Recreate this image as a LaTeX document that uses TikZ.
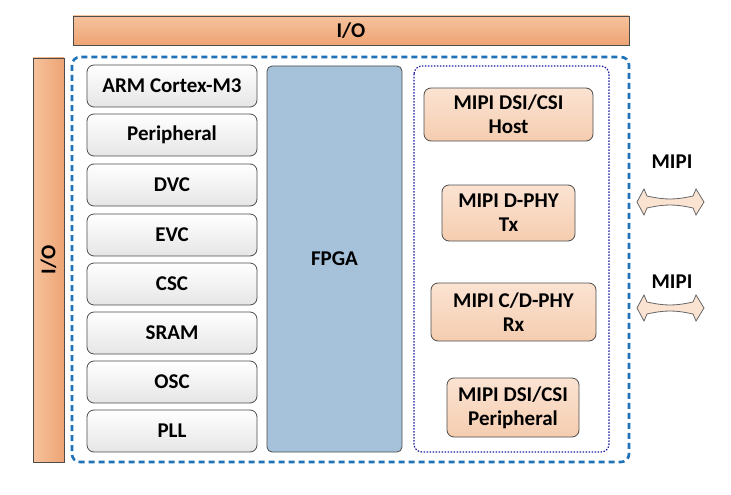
\documentclass[tikz,border=0pt]{standalone}
\usepackage{fontspec}
\setmainfont{Carlito}
\begin{document}
\begin{tikzpicture}[x=1pt,y=-1pt,
  io/.style={draw=black!70,line width=0.8pt,top color=ioa,bottom color=iob,font=\bfseries\fontsize{21}{23}\selectfont},
  blk/.style={draw=black!70,line width=0.8pt,rounded corners=7pt,top color=white,bottom color=black!10,font=\bfseries\fontsize{21}{23}\selectfont},
  mipi/.style={draw=black!70,line width=0.8pt,rounded corners=7pt,top color=mpa,bottom color=mpb,align=center,font=\bfseries\fontsize{21}{24}\selectfont},
  arr/.style={draw=black!60,fill=mpa,line width=0.8pt},
  lbl/.style={font=\bfseries\fontsize{21}{23}\selectfont}]
\useasboundingbox (0,0) rectangle (731,495);
\definecolor{dblue}{HTML}{1F72B8}
\definecolor{nblue}{HTML}{1A1AA0}
\definecolor{fpga}{HTML}{A6C1DA}
\definecolor{ioa}{HTML}{F6C29C}
\definecolor{iob}{HTML}{EDA474}
\definecolor{mpa}{HTML}{FBE3D2}
\definecolor{mpb}{HTML}{F5CDB0}
\node[io,minimum width=556pt,minimum height=29pt,inner sep=0pt] (iot) at (351,30.5) {I/O};
\node[io,minimum width=31pt,minimum height=404pt,inner sep=0pt,left color=ioa,right color=iob] (iol) at (48.5,260) {};
\node[rotate=90,lbl] (iolt) at (48.5,260) {I/O};
\draw[dblue,line width=2.6pt,dash pattern=on 6pt off 4pt,rounded corners=8pt] (72,57) rectangle (629,462);
\foreach \n/\t/\a/\b in {arm/ARM Cortex-M3/65/107, per/Peripheral/114/156, dvc/DVC/164/206, evc/EVC/214/256, csc/CSC/263/305, sram/SRAM/312/354, osc/OSC/361/403, pll/PLL/410/452}
  \node[blk,minimum width=170pt,minimum height={\b-\a},inner sep=0pt] (\n) at (172,{(\a+\b)/2}) {\t};
\node[draw=black!70,line width=0.8pt,fill=fpga,rounded corners=5pt,minimum width=135pt,minimum height=386pt,inner sep=0pt,font=\bfseries\fontsize{21}{23}\selectfont] (fpga) at (334.5,259) {FPGA};
\draw[nblue,line width=1.2pt,dash pattern=on 1.5pt off 1.5pt,rounded corners=8pt] (414,66) rectangle (609,452);
\node[mipi,minimum width=169pt,minimum height=53pt,inner sep=0pt] (host) at (508.5,114.5) {MIPI DSI/CSI\\Host};
\node[mipi,minimum width=133pt,minimum height=56pt,inner sep=0pt] (tx) at (508.5,213) {MIPI D-PHY\\Tx};
\node[mipi,minimum width=165pt,minimum height=58pt,inner sep=0pt] (rx) at (513.5,312) {MIPI C/D-PHY\\Rx};
\node[mipi,minimum width=132pt,minimum height=59pt,inner sep=0pt] (pp) at (513,407.5) {MIPI DSI/CSI\\Peripheral};
\foreach \y/\n in {202/a1,308/a2}{
  \draw[arr] (637,\y) -- (644,\y-13) .. controls (646,\y-10) .. (647,\y-6)
    .. controls (665,\y-2) and (675,\y-2) .. (693,\y-6)
    .. controls (694,\y-10) .. (696,\y-13) -- (704,\y) -- (696,\y+13)
    .. controls (694,\y+10) .. (693,\y+6)
    .. controls (675,\y+2) and (665,\y+2) .. (647,\y+6)
    .. controls (646,\y+10) .. (644,\y+13) -- cycle;
  \coordinate (\n) at (670,\y);
}
\node[lbl] (m1) at (672,162) {MIPI};
\node[lbl] (m2) at (672,282) {MIPI};
\end{tikzpicture}
\end{document}
